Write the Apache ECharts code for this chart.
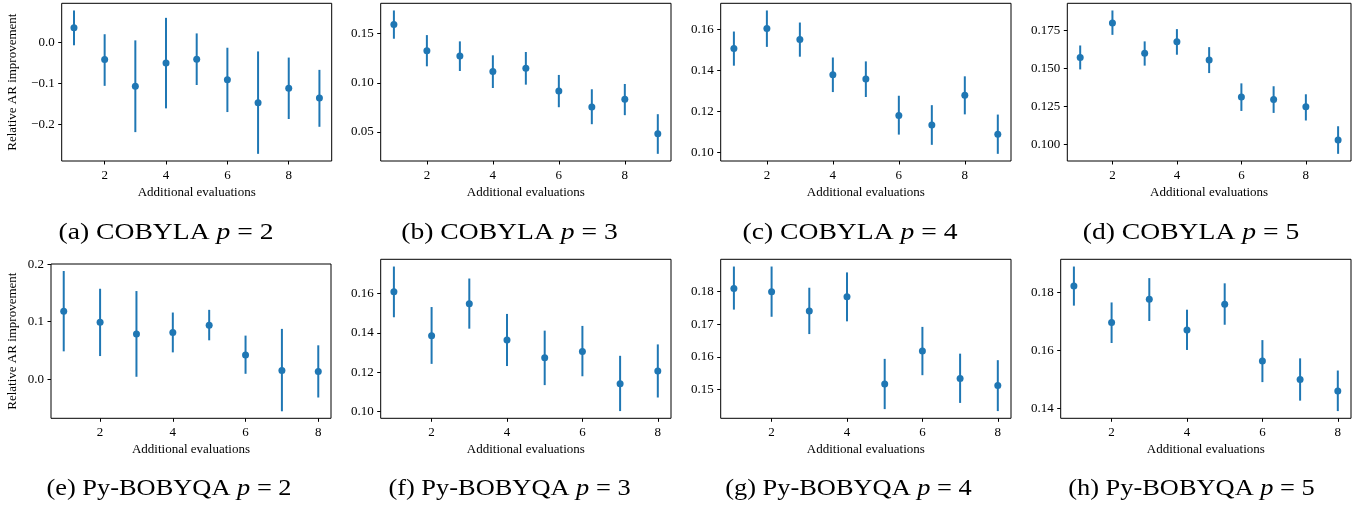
<!DOCTYPE html>
<html>
<head>
<meta charset="utf-8">
<script src="https://cdn.jsdelivr.net/npm/echarts@6/dist/echarts.min.js"></script>
<style>html,body{margin:0;padding:0;background:#fff}#c{width:1368px;height:510px}</style>
</head>
<body>
<div id="c"></div>
<script>
// ---- data ----
const xs9 = [1, 2, 3, 4, 5, 6, 7, 8, 9];
const xs8 = [1, 2, 3, 4, 5, 6, 7, 8];
const xTicks = [2, 4, 6, 8];

// (a) COBYLA p=2
const aMean = [0.036, -0.042, -0.107, -0.050, -0.041, -0.091, -0.147, -0.112, -0.136];
const aLow  = [-0.007, -0.106, -0.219, -0.161, -0.104, -0.170, -0.272, -0.187, -0.206];
const aHigh = [0.078, 0.020, 0.005, 0.060, 0.022, -0.013, -0.022, -0.037, -0.067];
// (b) COBYLA p=3
const bMean = [0.1595, 0.1327, 0.1273, 0.1114, 0.1147, 0.0917, 0.0754, 0.0832, 0.0480];
const bLow  = [0.1449, 0.1168, 0.1120, 0.0947, 0.0981, 0.0751, 0.0578, 0.0670, 0.0276];
const bHigh = [0.1737, 0.1486, 0.1422, 0.1280, 0.1314, 0.1080, 0.0934, 0.0988, 0.0680];
// (c) COBYLA p=4
const cMean = [0.1507, 0.1605, 0.1551, 0.1379, 0.1358, 0.1180, 0.1133, 0.1278, 0.1088];
const cLow  = [0.1423, 0.1515, 0.1467, 0.1294, 0.1270, 0.1086, 0.1036, 0.1185, 0.0992];
const cHigh = [0.1590, 0.1693, 0.1634, 0.1463, 0.1444, 0.1276, 0.1230, 0.1371, 0.1184];
// (d) COBYLA p=5
const dMean = [0.1572, 0.1800, 0.1599, 0.1675, 0.1555, 0.1311, 0.1294, 0.1246, 0.1028];
const dLow  = [0.1493, 0.1721, 0.1518, 0.1590, 0.1469, 0.1219, 0.1206, 0.1156, 0.0936];
const dHigh = [0.1651, 0.1882, 0.1678, 0.1759, 0.1640, 0.1401, 0.1382, 0.1329, 0.1118];
// (e) Py-BOBYQA p=2
const eMean = [0.1184, 0.0991, 0.0787, 0.0810, 0.0939, 0.0420, 0.0152, 0.0134];
const eLow  = [0.0484, 0.0402, 0.0041, 0.0466, 0.0676, 0.0093, -0.0560, -0.0320];
const eHigh = [0.1883, 0.1574, 0.1534, 0.1160, 0.1207, 0.0758, 0.0875, 0.0589];
// (f) Py-BOBYQA p=3
const fMean = [0.1610, 0.1386, 0.1549, 0.1364, 0.1274, 0.1306, 0.1142, 0.1207];
const fLow  = [0.1480, 0.1243, 0.1422, 0.1232, 0.1135, 0.1180, 0.1003, 0.1072];
const fHigh = [0.1738, 0.1532, 0.1677, 0.1497, 0.1412, 0.1436, 0.1284, 0.1342];
// (g) Py-BOBYQA p=4
const gMean = [0.1810, 0.1800, 0.1741, 0.1784, 0.1517, 0.1618, 0.1534, 0.1512];
const gLow  = [0.1745, 0.1723, 0.1670, 0.1709, 0.1440, 0.1544, 0.1459, 0.1434];
const gHigh = [0.1877, 0.1877, 0.1812, 0.1859, 0.1594, 0.1692, 0.1610, 0.1590];
// (h) Py-BOBYQA p=5
const hMean = [0.1822, 0.1696, 0.1776, 0.1670, 0.1759, 0.1563, 0.1499, 0.1459];
const hLow  = [0.1754, 0.1625, 0.1701, 0.1601, 0.1688, 0.1490, 0.1426, 0.1390];
const hHigh = [0.1889, 0.1765, 0.1849, 0.1740, 0.1831, 0.1635, 0.1572, 0.1530];

// y tick values and labels
const aTicks = [-0.2, -0.1, 0.0];   const aTickLabels = ['\u22120.2', '\u22120.1', '0.0'];
const bTicks = [0.05, 0.10, 0.15];  const bTickLabels = ['0.05', '0.10', '0.15'];
const cTicks = [0.10, 0.12, 0.14, 0.16]; const cTickLabels = ['0.10', '0.12', '0.14', '0.16'];
const dTicks = [0.100, 0.125, 0.150, 0.175]; const dTickLabels = ['0.100', '0.125', '0.150', '0.175'];
const eTicks = [0.0, 0.1, 0.2];     const eTickLabels = ['0.0', '0.1', '0.2'];
const fTicks = [0.10, 0.12, 0.14, 0.16]; const fTickLabels = ['0.10', '0.12', '0.14', '0.16'];
const gTicks = [0.15, 0.16, 0.17, 0.18]; const gTickLabels = ['0.15', '0.16', '0.17', '0.18'];
const hTicks = [0.14, 0.16, 0.18];  const hTickLabels = ['0.14', '0.16', '0.18'];

const captions = [
  '(a) COBYLA {i|p} = 2', '(b) COBYLA {i|p} = 3', '(c) COBYLA {i|p} = 4', '(d) COBYLA {i|p} = 5',
  '(e) Py-BOBYQA {i|p} = 2', '(f) Py-BOBYQA {i|p} = 3', '(g) Py-BOBYQA {i|p} = 4', '(h) Py-BOBYQA {i|p} = 5'
];
const xName = 'Additional evaluations';
const yName = 'Relative AR improvement';

// ---- layout ----
const panels = [
  {xs: xs9, m: aMean, lo: aLow, hi: aHigh, t: aTicks, tl: aTickLabels, box: [61.7, 3.3, 331.7, 161], yl: true},
  {xs: xs9, m: bMean, lo: bLow, hi: bHigh, t: bTicks, tl: bTickLabels, box: [380.7, 3.3, 671, 161]},
  {xs: xs9, m: cMean, lo: cLow, hi: cHigh, t: cTicks, tl: cTickLabels, box: [720.7, 3.3, 1011, 161]},
  {xs: xs9, m: dMean, lo: dLow, hi: dHigh, t: dTicks, tl: dTickLabels, box: [1067.3, 3.3, 1351, 161]},
  {xs: xs8, m: eMean, lo: eLow, hi: eHigh, t: eTicks, tl: eTickLabels, box: [51, 264, 331, 418.3], yl: true},
  {xs: xs8, m: fMean, lo: fLow, hi: fHigh, t: fTicks, tl: fTickLabels, box: [380.7, 259.3, 671, 418.3]},
  {xs: xs8, m: gMean, lo: gLow, hi: gHigh, t: gTicks, tl: gTickLabels, box: [720.7, 259.3, 1011, 418.3]},
  {xs: xs8, m: hMean, lo: hLow, hi: hHigh, t: hTicks, tl: hTickLabels, box: [1060.7, 259.3, 1351, 418.3]}
];
const capPos = [[166, 233], [509.5, 233], [850, 233], [1191, 233], [169, 489], [509.5, 489], [848.5, 489], [1191.5, 489]];
const capScale = [1.15, 1.15, 1.15, 1.15, 1.1, 1.1, 1.1, 1.1];

const FONT = '"Liberation Serif", "Times New Roman", serif';
const BLUE = '#1f77b4';

const grid = [], xAxis = [], yAxis = [], series = [], graphic = [];
panels.forEach((p, i) => {
  const [l, t, r, b] = p.box;
  grid.push({left: l, top: t, width: r - l, height: b - t, show: true, borderColor: '#000', borderWidth: 1, backgroundColor: 'transparent'});
  const n = p.xs.length;
  const xr = p.xs[n - 1] - p.xs[0];
  const lo = Math.min(...p.lo), hi = Math.max(...p.hi);
  const pad = (hi - lo) * 0.05;
  xAxis.push({
    type: 'value', gridIndex: i, min: p.xs[0] - 0.05 * xr, max: p.xs[n - 1] + 0.05 * xr,
    splitLine: {show: false}, axisLine: {show: false, onZero: false},
    axisTick: {show: true, inside: false, length: 3.5, customValues: xTicks, lineStyle: {color: '#000', width: 1}},
    axisLabel: {customValues: xTicks, margin: 8, color: '#000', fontFamily: FONT, fontSize: 13},
    name: xName, nameLocation: 'middle', nameGap: 25,
    nameTextStyle: {color: '#000', fontFamily: FONT, fontSize: 13}
  });
  yAxis.push({
    type: 'value', gridIndex: i, min: lo - pad, max: hi + pad,
    splitLine: {show: false}, axisLine: {show: false, onZero: false},
    axisTick: {show: true, inside: false, length: 3.5, customValues: p.t, lineStyle: {color: '#000', width: 1}},
    axisLabel: {customValues: p.t, margin: 7, color: '#000', fontFamily: FONT, fontSize: 13,
      formatter: (v) => {
        let best = 0;
        p.t.forEach((tv, k) => { if (Math.abs(tv - v) < Math.abs(p.t[best] - v)) best = k; });
        return p.tl[best];
      }},
    name: p.yl ? yName : '', nameLocation: 'middle', nameGap: p.yl ? (l - 19) : 0, nameRotate: 90,
    nameTextStyle: {color: '#000', fontFamily: FONT, fontSize: 13}
  });
  series.push({
    type: 'custom', xAxisIndex: i, yAxisIndex: i,
    data: p.xs.map((x, k) => [x, p.lo[k], p.hi[k]]),
    encode: {x: 0, y: [1, 2]},
    renderItem: (params, api) => {
      const p1 = api.coord([api.value(0), api.value(1)]);
      const p2 = api.coord([api.value(0), api.value(2)]);
      return {type: 'line', shape: {x1: p1[0], y1: p1[1], x2: p2[0], y2: p2[1]},
        style: {stroke: BLUE, lineWidth: 2}};
    },
    z: 2, silent: true
  });
  series.push({
    type: 'scatter', xAxisIndex: i, yAxisIndex: i,
    data: p.xs.map((x, k) => [x, p.m[k]]),
    symbol: 'circle', symbolSize: 7, itemStyle: {color: BLUE, opacity: 1}, z: 3, silent: true
  });
  graphic.push({
    type: 'text', x: capPos[i][0], y: capPos[i][1], scaleX: capScale[i], scaleY: 1,
    style: {text: captions[i], fontFamily: FONT, fontSize: 24, fill: '#000', align: 'center', verticalAlign: 'middle',
      rich: {i: {fontFamily: FONT, fontSize: 24, fontStyle: 'italic', fill: '#000'}}},
    silent: true
  });
});

const chart = echarts.init(document.getElementById('c'), null, {renderer: 'canvas'});
chart.setOption({animation: false, backgroundColor: '#fff', graphic, grid, xAxis, yAxis, series});
</script>
</body>
</html>
